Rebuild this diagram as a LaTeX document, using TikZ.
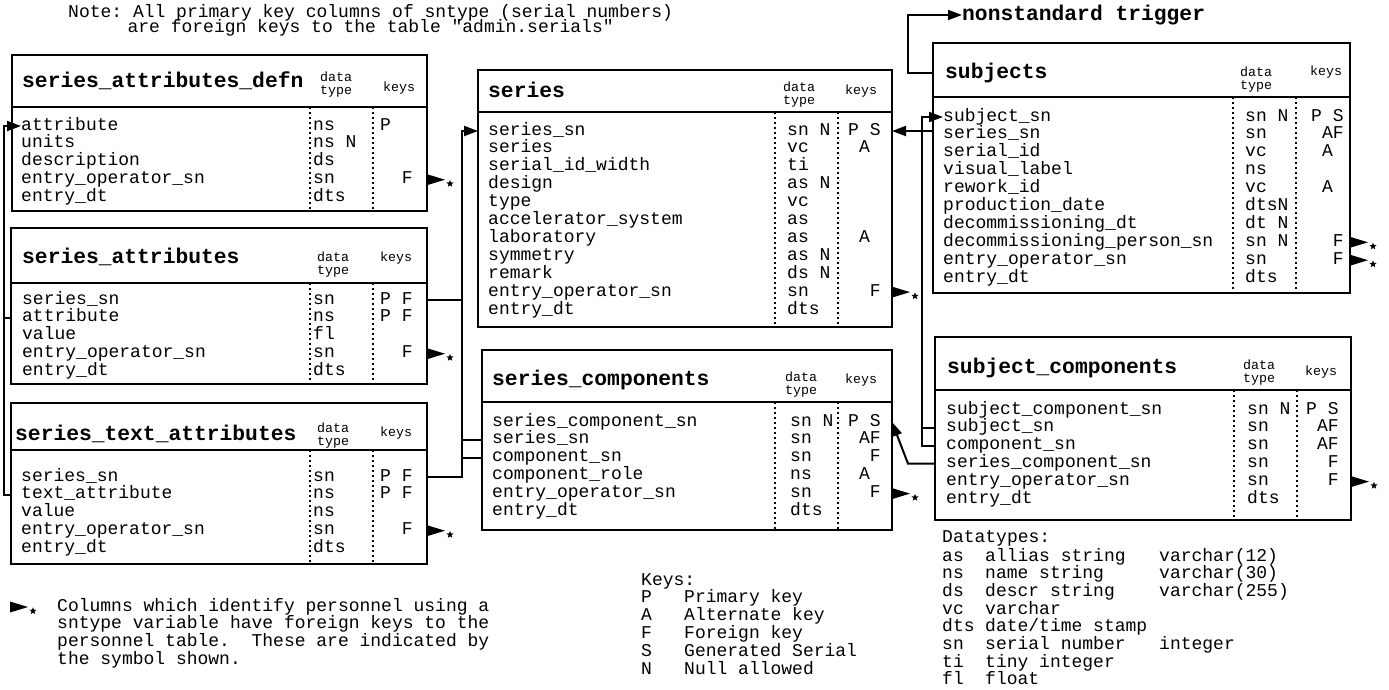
\documentclass[tikz,border=0pt]{standalone}
\usepackage{fontspec}
\setmonofont{Liberation Mono}
\usetikzlibrary{arrows.meta, positioning, shapes.geometric}

\newcommand{\kgap}{\hphantom{X}}
\newcommand{\rowfont}{\ttfamily\fontsize{18}{17.9}\selectfont}
\newcommand{\titlefont}{\ttfamily\fontsize{21.3}{22}\selectfont\bfseries}
\newcommand{\hdrfont}{\ttfamily\fontsize{13.3}{13}\selectfont}

\tikzset{
    tableframe/.style={draw, line width=2.4pt, inner sep=0pt, outer sep=0pt},
    divider/.style={line width=1.8pt, dash pattern=on 2pt off 3pt},
    row/.style={anchor=west, inner sep=0pt, text height=12pt, text depth=4pt, font=\rowfont},
    tabletitle/.style={anchor=west, inner sep=0pt, text height=15pt, text depth=5pt, font=\titlefont},
    hdr/.style={anchor=west, inner sep=0pt, align=left, font=\hdrfont},
    link/.style={line width=2pt},
    fkarrow/.style={-{Triangle[length=14pt,width=10pt]}},
    fkstar/.style={star, star points=5, star point ratio=2.3, fill, inner sep=0pt, minimum size=7.5pt, xshift=5pt, yshift=-4pt},
}

\newcommand{\dbframe}[6]{%
    \node[tableframe, anchor=north west, minimum width={(#4-#2)*1pt}, minimum height={(#6-#3)*1pt}] (#1) at (#2,#3) {};
    \draw[line width=2.4pt] (#2,#5) -- (#4,#5);
    \draw[divider] ({#4-117},#5) -- ({#4-117},#6);
    \draw[divider] ({#4-54},#5) -- ({#4-54},#6);
}

\newcommand{\dbrows}[6]{%
    \foreach \cname/\ctype/\ckey [count=\i] in {#6} {
        \node[row] (#1-\i) at (#2,{#5+17.9*(\i-1)}) {\cname};
        \node[row] (#1-t\i) at (#3,{#5+17.9*(\i-1)}) {\ctype};
        \node[row] (#1-k\i) at (#4,{#5+17.9*(\i-1)}) {\ckey};
    }%
}

\begin{document}
\begin{tikzpicture}[x=1pt, y=-1pt]
    \useasboundingbox (0,0) rectangle (1389,689);

    \node[row] (note1) at (68,13) {Note: All primary key columns of sntype (serial numbers)};
    \node[row, below=-1pt of note1] (note2) {are foreign keys to the table "admin.serials"};

    \dbframe{sad}{12}{55}{427}{107}{211}
    \node[tabletitle] (sad-h) at (22,82) {series\_attributes\_defn};
    \node[hdr] (sad-dt) at (320,85) {data\\type};
    \node[hdr] (sad-ks) at (383,88) {keys};
    \dbrows{sad}{21}{313}{380}{126}{attribute/ns/P, units/ns N/{}, description/ds/{}, entry\_operator\_sn/sn/\kgap\kgap F, entry\_dt/dts/{}}

    \dbframe{sa}{11}{228}{427}{283}{384}
    \node[tabletitle] (sa-h) at (22,258) {series\_attributes};
    \node[hdr] (sa-dt) at (317,265) {data\\type};
    \node[hdr] (sa-ks) at (380,258) {keys};
    \dbrows{sa}{22}{313}{380}{300}{series\_sn/sn/P F, attribute/ns/P F, value/fl/{}, entry\_operator\_sn/sn/\kgap\kgap F, entry\_dt/dts/{}}

    \dbframe{sta}{11}{403}{427}{450}{564}
    \node[tabletitle] (sta-h) at (15,435) {series\_text\_attributes};
    \node[hdr] (sta-dt) at (317,436) {data\\type};
    \node[hdr] (sta-ks) at (380,433) {keys};
    \dbrows{sta}{21}{313}{380}{477}{series\_sn/sn/P F, text\_attribute/ns/P F, value/ns/{}, entry\_operator\_sn/sn/\kgap\kgap F, entry\_dt/dts/{}}

    \dbframe{ser}{478}{70}{892}{112}{327}
    \node[tabletitle] (ser-h) at (488,92) {series};
    \node[hdr] (ser-dt) at (783,95) {data\\type};
    \node[hdr] (ser-ks) at (845,91) {keys};
    \dbrows{ser}{488}{787}{848}{131}{series\_sn/sn N/P S, series/vc/\kgap A, serial\_id\_width/ti/{}, design/as N/{}, type/vc/{}, accelerator\_system/as/{}, laboratory/as/\kgap A, symmetry/as N/{}, remark/ds N/{}, entry\_operator\_sn/sn/\kgap\kgap F, entry\_dt/dts/{}}

    \dbframe{sc}{482}{350}{892}{402}{530}
    \node[tabletitle] (sc-h) at (492,380) {series\_components};
    \node[hdr] (sc-dt) at (785,385) {data\\type};
    \node[hdr] (sc-ks) at (845,380) {keys};
    \dbrows{sc}{492}{790}{848}{422}{series\_component\_sn/sn N/P S, series\_sn/sn/\kgap AF, component\_sn/sn/\kgap\kgap F, component\_role/ns/\kgap A, entry\_operator\_sn/sn/\kgap\kgap F, entry\_dt/dts/{}}

    \dbframe{subj}{933}{43}{1350}{97}{293}
    \node[tabletitle] (subj-h) at (945,73) {subjects};
    \node[hdr] (subj-dt) at (1240,80) {data\\type};
    \node[hdr] (subj-ks) at (1310,72) {keys};
    \dbrows{subj}{943}{1245}{1311}{117}{subject\_sn/sn N/P S, series\_sn/sn/\kgap AF, serial\_id/vc/\kgap A, visual\_label/ns/{}, rework\_id/vc/\kgap A, production\_date/dtsN/{}, decommissioning\_dt/dt N/{}, decommissioning\_person\_sn/sn N/\kgap\kgap F, entry\_operator\_sn/sn/\kgap\kgap F, entry\_dt/dts/{}}

    \dbframe{sbc}{935}{337}{1351}{390}{520}
    \node[tabletitle] (sbc-h) at (947,368) {subject\_components};
    \node[hdr] (sbc-dt) at (1243,373) {data\\type};
    \node[hdr] (sbc-ks) at (1305,372) {keys};
    \dbrows{sbc}{946}{1247}{1306}{410}{subject\_component\_sn/sn N/P S, subject\_sn/sn/\kgap AF, component\_sn/sn/\kgap AF, series\_component\_sn/sn/\kgap\kgap F, entry\_operator\_sn/sn/\kgap\kgap F, entry\_dt/dts/{}}

    \node[tabletitle] (trig) at (962,15) {nonstandard trigger};

    \coordinate (lbus) at (4,0);
    \coordinate (mbus) at (462,0);
    \coordinate (rbus) at (922,0);
    \coordinate (kink) at (908,0);

    \draw[link, fkarrow] (sta.west |- sta-2) -- (lbus |- sta-2) -- (lbus |- sad-1) -- (sad-1.west);
    \draw[link] (lbus |- sa-2) -- (sa.west |- sa-2);

    \draw[link, fkarrow] (sta.east |- sta-1) -- (mbus |- sta-1) -- (mbus |- ser-1) -- (ser.west |- ser-1);
    \draw[link] (sa.east |- sa-1) -- (mbus |- sa-1);
    \draw[link] (mbus |- sc-2) -- (sc.west |- sc-2);
    \draw[link] (mbus |- sc-3) -- (sc.west |- sc-3);

    \draw[link, fkarrow] (subj.west |- ser-1) -- (ser.east |- ser-1);
    \draw[link, fkarrow] (sbc.west |- sbc-3) -- (rbus |- sbc-3) -- (rbus |- subj-1) -- (subj-1.west);
    \draw[link] (rbus |- sbc-2) -- (sbc.west |- sbc-2);
    \draw[link, fkarrow] (sbc.west |- sbc-4) -- (kink |- sbc-4) -- (sc.east |- sc-1);
    \draw[link, fkarrow] (subj.west |- subj-h) -- (kink |- subj-h) -- (kink |- trig) -- (trig.west);

    \foreach \t/\r in {sad/sad-4, sa/sa-4, sta/sta-4, ser/ser-10, sc/sc-5, subj/subj-8, subj/subj-9, sbc/sbc-5}
        \fill (\t.east |- \r) ++(0,-5.5) -- ++(18,5.5) node[fkstar] (star-\r) {} -- ++(-18,5.5) -- cycle;

    \fill (10,607) ++(0,-5.5) -- ++(18,5.5) node[fkstar] (star-legend) {} -- ++(-18,5.5) -- cycle;
    \foreach \ln [count=\i] in {Columns which identify personnel using a, sntype variable have foreign keys to the, {personnel table.\kgap{} These are indicated by}, the symbol shown.}
        \node[row] (pers-\i) at (57,{607+17.9*(\i-1)}) {\ln};

    \node[row] (keys) at (641,581) {Keys:};
    \foreach \kc/\kd [count=\i] in {P/Primary key, A/Alternate key, F/Foreign key, S/Generated Serial, N/Null allowed} {
        \node[row] (key-\i) at (641,{581+17.8*\i}) {\kc};
        \node[row] (keyd-\i) at (684,{581+17.8*\i}) {\kd};
    }

    \node[row] (dtypes) at (942,538) {Datatypes:};
    \foreach \da/\dd/\ds [count=\i] in {as/allias string/varchar(12), ns/name string/varchar(30), ds/descr string/varchar(255), vc/varchar/{}, dts/{date/time stamp}/{}, sn/serial number/integer, ti/tiny integer/{}, fl/float/{}} {
        \node[row] (dta-\i) at (942,{557+17.7*(\i-1)}) {\da};
        \node[row] (dtd-\i) at (985,{557+17.7*(\i-1)}) {\dd};
        \node[row] (dts-\i) at (1159,{557+17.7*(\i-1)}) {\ds};
    }
\end{tikzpicture}
\end{document}
